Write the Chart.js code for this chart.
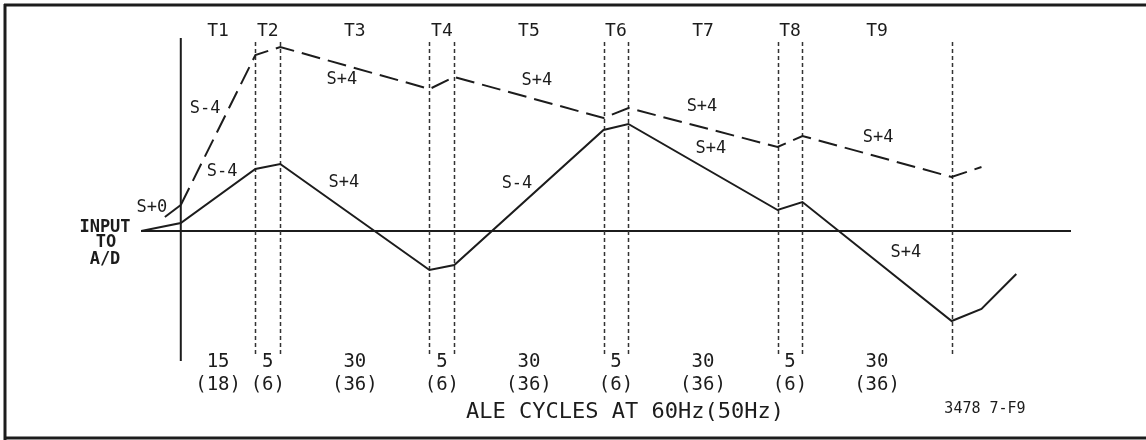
<!DOCTYPE html>
<html>
<head>
<meta charset="utf-8">
<script src="https://cdn.jsdelivr.net/npm/chart.js@4/dist/chart.umd.min.js"></script>
<style>
  html, body { margin: 0; padding: 0; background: #fff; overflow: hidden; }
  #wrap { width: 1146px; height: 440px; }
</style>
</head>
<body>
<div id="wrap"><canvas id="c" width="1146" height="440"></canvas></div>
<script>
// ---- data (x in ALE cycles at 60 Hz, y in arbitrary A/D input units) ----
const cycleBounds = [0, 15, 20, 50, 55, 85, 90, 120, 125, 155];
const phaseNames  = ['T1', 'T2', 'T3', 'T4', 'T5', 'T6', 'T7', 'T8', 'T9'];
const cycles60    = ['15', '5', '30', '5', '30', '5', '30', '5', '30'];
const cycles50    = ['(18)', '(6)', '(36)', '(6)', '(36)', '(6)', '(36)', '(6)', '(36)'];

const solidX  = [-8, 0, 15, 20, 50, 55, 85, 90, 120, 125, 155, 161, 168];
const solidY  = [0, 0.4, 3.1, 3.35, -1.95, -1.7, 5.05, 5.35, 1.05, 1.45, -4.5, -3.9, -2.15];

const dashedX = [0, 15, 20, 50, 55, 85, 90, 120, 125, 155, 161];
const dashedY = [1.3, 8.8, 9.2, 7.1, 7.7, 5.65, 6.15, 4.2, 4.75, 2.7, 3.2];

const s0X = [-3.2, 0];
const s0Y = [0.7, 1.3];

const slopeText = ['S+0', 'S-4', 'S-4', 'S+4', 'S+4', 'S+4', 'S-4', 'S+4', 'S+4', 'S+4', 'S+4'];
const slopeX    = [-5.8, 4.9, 8.3, 32.4, 32.8, 71.6, 67.6, 104.8, 106.6, 140.2, 145.8];
const slopeY    = [1.15, 6.1, 2.95, 7.55, 2.4, 7.5, 2.35, 6.2, 4.1, 4.65, -1.1];

const xTitle = 'ALE CYCLES AT 60Hz(50Hz)';
const yTitle = ['INPUT', 'TO', 'A/D'];
const figId  = '3478 7-F9';

// ---- helpers ----
const pts = (xs, ys) => xs.map((x, i) => ({ x: x, y: ys[i] }));
const INK = '#1c1c1c';
const MONO = '"DejaVu Sans Mono", "Liberation Mono", monospace';

function seg(ctx, x1, y1, x2, y2) {
  ctx.beginPath();
  ctx.moveTo(x1, y1);
  ctx.lineTo(x2, y2);
  ctx.stroke();
}

const diagramPlugin = {
  id: 'diagram',
  beforeDraw(chart) {
    const ctx = chart.ctx;
    ctx.save();
    ctx.fillStyle = '#fff';
    ctx.fillRect(0, 0, chart.width, chart.height);
    ctx.restore();
  },
  beforeDatasetsDraw(chart) {
    const { ctx, chartArea: a, scales: { x, y } } = chart;
    ctx.save();
    ctx.strokeStyle = INK;

    // frame: top, left, bottom (no right edge in the original)
    ctx.lineWidth = 3;
    ctx.lineCap = 'butt';
    seg(ctx, 4, 5, 1200, 5);
    seg(ctx, 5, 4, 5, 440);
    seg(ctx, 5, 438, 1200, 438);

    // vertical axis at cycle 0
    const x0 = x.getPixelForValue(0);
    ctx.lineWidth = 2;
    seg(ctx, x0, a.top, x0, a.bottom);

    // zero line
    const y0 = y.getPixelForValue(0);
    seg(ctx, a.left, y0, a.right, y0);

    // dashed phase boundaries
    ctx.lineWidth = 1.5;
    ctx.strokeStyle = '#333';
    ctx.setLineDash([4, 3]);
    for (let i = 1; i < cycleBounds.length; i++) {
      const px = Math.round(x.getPixelForValue(cycleBounds[i])) + 0.5;
      seg(ctx, px, a.top + 4, px, a.bottom - 4);
    }
    ctx.restore();
  },
  afterDatasetsDraw(chart) {
    const { ctx, chartArea: a, scales: { x, y } } = chart;
    ctx.save();
    ctx.fillStyle = INK;
    ctx.textAlign = 'center';
    ctx.textBaseline = 'middle';

    for (let i = 0; i < phaseNames.length; i++) {
      const cx = (x.getPixelForValue(cycleBounds[i]) + x.getPixelForValue(cycleBounds[i + 1])) / 2;
      ctx.font = '18px ' + MONO;
      ctx.fillText(phaseNames[i], cx, 31);
      ctx.font = '19px ' + MONO;
      ctx.fillText(cycles60[i], cx, a.bottom + 1);
      ctx.fillText(cycles50[i], cx, a.bottom + 24);
    }

    ctx.font = '17px ' + MONO;
    for (let i = 0; i < slopeText.length; i++) {
      ctx.fillText(slopeText[i], x.getPixelForValue(slopeX[i]), y.getPixelForValue(slopeY[i]));
    }

    const y0 = y.getPixelForValue(0);
    ctx.font = 'bold 17px ' + MONO;
    ctx.fillText(yTitle[0], 105, y0 - 3);
    ctx.fillText(yTitle[1], 106, y0 + 12);
    ctx.fillText(yTitle[2], 105, y0 + 29);

    ctx.font = '22px ' + MONO;
    ctx.fillText(xTitle, 625, 412);

    ctx.font = '15px ' + MONO;
    ctx.fillText(figId, 985, 409);
    ctx.restore();
  }
};

new Chart(document.getElementById('c'), {
  type: 'line',
  data: {
    datasets: [
      { data: pts(solidX, solidY), borderColor: INK, borderWidth: 2 },
      { data: pts(dashedX, dashedY), borderColor: INK, borderWidth: 2, borderDash: [19, 8] },
      { data: pts(s0X, s0Y), borderColor: INK, borderWidth: 2 }
    ]
  },
  options: {
    responsive: false,
    animation: false,
    events: [],
    layout: { padding: { left: 141, right: 75, top: 38, bottom: 79 } },
    elements: { line: { tension: 0 }, point: { radius: 0 } },
    plugins: { legend: { display: false }, tooltip: { enabled: false } },
    scales: {
      x: { type: 'linear', min: -8, max: 179, display: false },
      y: { type: 'linear', min: -6.5, max: 9.65, display: false }
    }
  },
  plugins: [diagramPlugin]
});
</script>
</body>
</html>
